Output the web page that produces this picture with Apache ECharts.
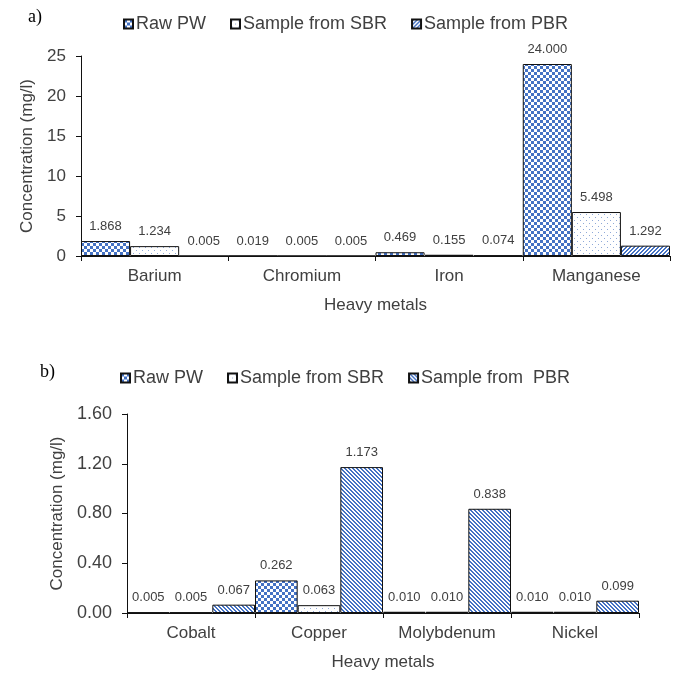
<!DOCTYPE html>
<html>
<head>
<meta charset="utf-8">
<script src="https://cdn.jsdelivr.net/npm/echarts@6/dist/echarts.min.js"></script>
<style>
html,body{margin:0;padding:0;background:#fff;}
#a{position:absolute;left:0;top:0;width:685px;height:340px;}
#b{position:absolute;left:0;top:340px;width:685px;height:349px;}
</style>
</head>
<body>
<div id="a"></div>
<div id="b"></div>
<script>
// ---- Data ----
var catsA = ['Barium', 'Chromium', 'Iron', 'Manganese'];
var rawA = [1.868, 0.019, 0.469, 24.000];
var sbrA = [1.234, 0.005, 0.155, 5.498];
var pbrA = [0.005, 0.005, 0.074, 1.292];
var yTicksA = [0, 5, 10, 15, 20, 25];

var catsB = ['Cobalt', 'Copper', 'Molybdenum', 'Nickel'];
var rawB = [0.005, 0.262, 0.010, 0.010];
var sbrB = [0.005, 0.063, 0.010, 0.010];
var pbrB = [0.067, 1.173, 0.838, 0.099];
var yTicksB = ['0.00', '0.40', '0.80', '1.20', '1.60'];

var namesA = ['Raw PW', 'Sample from SBR', 'Sample from PBR'];
var namesB = ['Raw PW', 'Sample from SBR', 'Sample from  PBR'];

// ---- Patterns ----
var BLUE = '#4472C4';
function tile(w, h, fn) {
  var c = document.createElement('canvas');
  c.width = w; c.height = h;
  var ctx = c.getContext('2d');
  ctx.fillStyle = '#fff';
  ctx.fillRect(0, 0, w, h);
  fn(ctx);
  return {image: c, repeat: 'repeat'};
}
function checker() {
  return tile(6, 6, function (ctx) {
    ctx.fillStyle = BLUE;
    ctx.fillRect(0, 0, 3, 3);
    ctx.fillRect(3, 3, 3, 3);
  });
}
function dots() {
  return tile(6, 6, function (ctx) {
    ctx.fillStyle = '#8fa9d8';
    ctx.fillRect(1, 1, 1, 1);
    ctx.fillRect(4, 4, 1, 1);
  });
}
function stripes(dir) {
  return tile(4, 4, function (ctx) {
    ctx.fillStyle = BLUE;
    for (var x = 0; x < 4; x++) {
      for (var y = 0; y < 4; y++) {
        var k = dir === '/' ? (x + y) % 4 : ((x - y) % 4 + 4) % 4;
        if (k === 0 || k === 1) ctx.fillRect(x, y, 1, 1);
      }
    }
  });
}

var FONT = 'Liberation Sans, Arial, sans-serif';
var TXT = '#404040';

function build(cats, raw, sbr, pbr, names, ticks, opts) {
  var fills = [checker(), dots(), stripes(opts.dir)];
  var vals = [raw, sbr, pbr];
  var series = vals.map(function (v, i) {
    return {
      type: 'bar',
      name: names[i],
      data: v,
      barGap: '0%',
      barCategoryGap: '0%',
      itemStyle: {color: fills[i], borderColor: '#111', borderWidth: 1},
      label: {
        show: true, position: 'top', distance: 8,
        color: TXT, fontSize: 13, fontFamily: FONT,
        formatter: function (p) { return p.value.toFixed(3); }
      },
      emphasis: {disabled: true}
    };
  });
  var tickNums = ticks.map(Number);
  var mx = tickNums[tickNums.length - 1];
  var itv = tickNums[1] - tickNums[0];
  return {
    animation: false,
    textStyle: {fontFamily: FONT},
    graphic: [{
      type: 'text', left: opts.tagX, top: opts.tagY,
      style: {text: opts.tag, font: '18px "Liberation Serif", "Times New Roman", serif', fill: '#000'}
    }],
    legend: {
      left: opts.legLeft, top: opts.legTop, padding: 0,
      itemWidth: 9, itemHeight: 9, itemGap: 24,
      icon: 'rect',
      textStyle: {fontSize: 18, color: TXT, fontFamily: FONT, padding: [0, 0, 0, -2]},
      data: names,
      selectedMode: false
    },
    grid: {left: opts.gl, right: opts.gr, top: opts.gt, bottom: opts.gb},
    xAxis: {
      type: 'category',
      data: cats,
      name: 'Heavy metals',
      nameLocation: 'middle',
      nameGap: 41,
      nameTextStyle: {fontSize: 17, color: TXT, fontFamily: FONT},
      axisLine: {lineStyle: {color: '#111', width: 1}},
      axisTick: {show: true, length: 5, lineStyle: {color: '#111'}},
      axisLabel: {fontSize: 17, color: TXT, fontFamily: FONT, margin: 12}
    },
    yAxis: {
      type: 'value',
      min: tickNums[0], max: mx, interval: itv,
      name: 'Concentration (mg/l)',
      nameLocation: 'middle',
      nameGap: opts.yGap,
      nameTextStyle: {fontSize: 17, color: TXT, fontFamily: FONT},
      axisLine: {show: true, lineStyle: {color: '#111', width: 1}},
      axisTick: {show: true, length: 5, lineStyle: {color: '#111'}},
      splitLine: {show: false},
      axisLabel: {
        fontSize: opts.yFont, color: TXT, fontFamily: FONT, margin: 15,
        formatter: function (v) {
          var idx = tickNums.indexOf(v);
          return idx >= 0 ? String(ticks[idx]) : '';
        }
      }
    },
    series: series
  };
}

var ca = echarts.init(document.getElementById('a'), null, {renderer: 'canvas'});
ca.setOption(build(catsA, rawA, sbrA, pbrA, namesA, yTicksA, {
  dir: '/', tag: 'a)', tagX: 28, tagY: 8,
  legLeft: 123, legTop: 15, yFont: 17,
  gl: 81, gr: 15, gt: 56, gb: 84, yGap: 44
}));

var cb = echarts.init(document.getElementById('b'), null, {renderer: 'canvas'});
cb.setOption(build(catsB, rawB, sbrB, pbrB, namesB, yTicksB, {
  dir: '\\', tag: 'b)', tagX: 40, tagY: 23,
  legLeft: 120, legTop: 29, yFont: 18,
  gl: 127, gr: 46, gt: 74, gb: 76, yGap: 61
}));
</script>
</body>
</html>
